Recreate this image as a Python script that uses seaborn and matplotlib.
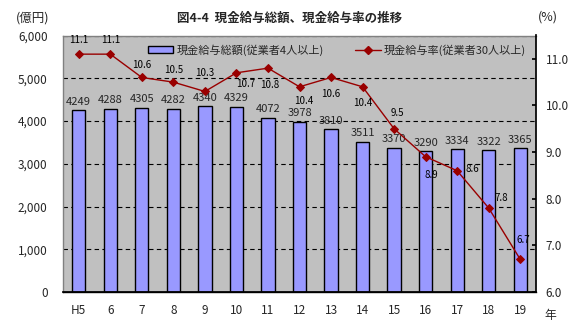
import matplotlib
matplotlib.use("Agg")
import matplotlib.pyplot as plt
import seaborn as sns
import numpy as np
import pandas as pd
from matplotlib.patches import Patch
from matplotlib.lines import Line2D

# ---- data ----
years = ["H5", "6", "7", "8", "9", "10", "11", "12", "13", "14", "15", "16", "17", "18", "19"]
total_pay = [4249, 4288, 4305, 4282, 4340, 4329, 4072, 3978, 3810, 3511, 3370, 3290, 3334, 3322, 3365]
pay_rate = [11.1, 11.1, 10.6, 10.5, 10.3, 10.7, 10.8, 10.4, 10.6, 10.4, 9.5, 8.9, 8.6, 7.8, 6.7]
left_ticks = [0, 1000, 2000, 3000, 4000, 5000, 6000]
right_ticks = [6.0, 7.0, 8.0, 9.0, 10.0, 11.0]
bar_name = "現金給与総額(従業者4人以上)"
line_name = "現金給与率(従業者30人以上)"
title = "図4-4  現金給与総額、現金給与率の推移"

# label offsets (points) for the line values
rate_offsets = [(0, 10), (0, 10), (0, 9), (0, 9), (0, 13), (7, -8), (1, -12), (3, -10),
                (0, -12), (0, -11.5), (2, 11.5), (4, -13), (11, 1), (9, 7), (2, 14)]

sns.set_theme(style="white")
plt.rcParams["font.family"] = ["Noto Sans CJK JP", "DejaVu Sans"]

W, H = 579, 327
fig = plt.figure(figsize=(W / 100, H / 100), dpi=100)
fig.patch.set_facecolor("white")
L, R, T, B = 63, 536, 35.5, 292
ax = fig.add_axes([L / W, 1 - B / H, (R - L) / W, (B - T) / H])

df = pd.DataFrame({"year": years, "total": total_pay, "rate": pay_rate})
df["pos"] = np.arange(len(df))

sns.barplot(data=df, x="year", y="total", ax=ax, color="#9999FF", edgecolor="black",
            linewidth=1, width=0.42, saturation=1, zorder=2)
ax.set_facecolor("#C0C0C0")
ax.set_xlim(-0.5, len(years) - 0.5)
ax.set_ylim(0, 6000)
ax.set_yticks(left_ticks)
ax.set_yticklabels([f"{v:,}" for v in left_ticks])
ax.set_axisbelow(True)
ax.yaxis.grid(True, linestyle=(0, (4, 3)), color="black", linewidth=0.8)
ax.xaxis.grid(False)
ax.set_xlabel("")
ax.set_ylabel("")
ax.set_xticks(np.arange(-0.5, len(years), 1), minor=True)
ax.tick_params(axis="x", which="major", length=0, pad=9, labelsize=8.5)
ax.tick_params(axis="x", which="minor", direction="in", length=3, color="black", width=0.8)
ax.tick_params(axis="y", length=0, pad=11, labelsize=8.5)
for s in ["top", "left"]:
    ax.spines[s].set_color("#808080")
    ax.spines[s].set_linewidth(1)
ax.spines["right"].set_visible(False)
ax.spines["bottom"].set_color("black")
ax.spines["bottom"].set_linewidth(1)

for cont in ax.containers:
    ax.bar_label(cont, labels=[str(v) for v in total_pay], padding=2.5, fontsize=8)

ax2 = ax.twinx()
sns.lineplot(data=df, x="pos", y="rate", ax=ax2, color="#990000", linewidth=1,
             marker="D", markersize=4.2, markeredgecolor="#990000", markerfacecolor="#990000")
ax2.set_ylim(6.0, 11.5)
ax2.set_yticks(right_ticks)
ax2.set_yticklabels([f"{v:.1f}" for v in right_ticks])
ax2.set_ylabel("")
ax2.tick_params(axis="y", direction="in", length=3, pad=7, labelsize=8.5, color="black")
ax2.spines["left"].set_visible(False)
ax2.spines["top"].set_visible(False)
ax2.spines["right"].set_color("black")
ax2.spines["bottom"].set_color("black")
ax2.grid(False)

for x, v, (dx, dy) in zip(df["pos"], pay_rate, rate_offsets):
    ax2.annotate(f"{v:.1f}", (x, v), xytext=(dx, dy), textcoords="offset points",
                 ha="center", va="center", fontsize=7, color="black")

handles = [Patch(facecolor="#9999FF", edgecolor="black", linewidth=1),
           Line2D([], [], color="#990000", lw=1, marker="D", markersize=4.2)]
fig.legend(handles, [bar_name, line_name], loc="center", ncol=2,
           bbox_to_anchor=(337 / W, 1 - 50 / H), frameon=False, fontsize=8,
           handlelength=2.3, handleheight=0.6, columnspacing=2.8, handletextpad=0.3)

fig.text(290 / W, 1 - 18 / H, title, ha="center", va="center", fontsize=9, fontweight="bold")
fig.text(33 / W, 1 - 18 / H, "(億円)", ha="center", va="center", fontsize=9)
fig.text(548 / W, 1 - 17 / H, "(%)", ha="center", va="center", fontsize=9)
fig.text(550 / W, 1 - 316 / H, "年", ha="center", va="center", fontsize=8.5)

fig.savefig("out.png", dpi=100)
